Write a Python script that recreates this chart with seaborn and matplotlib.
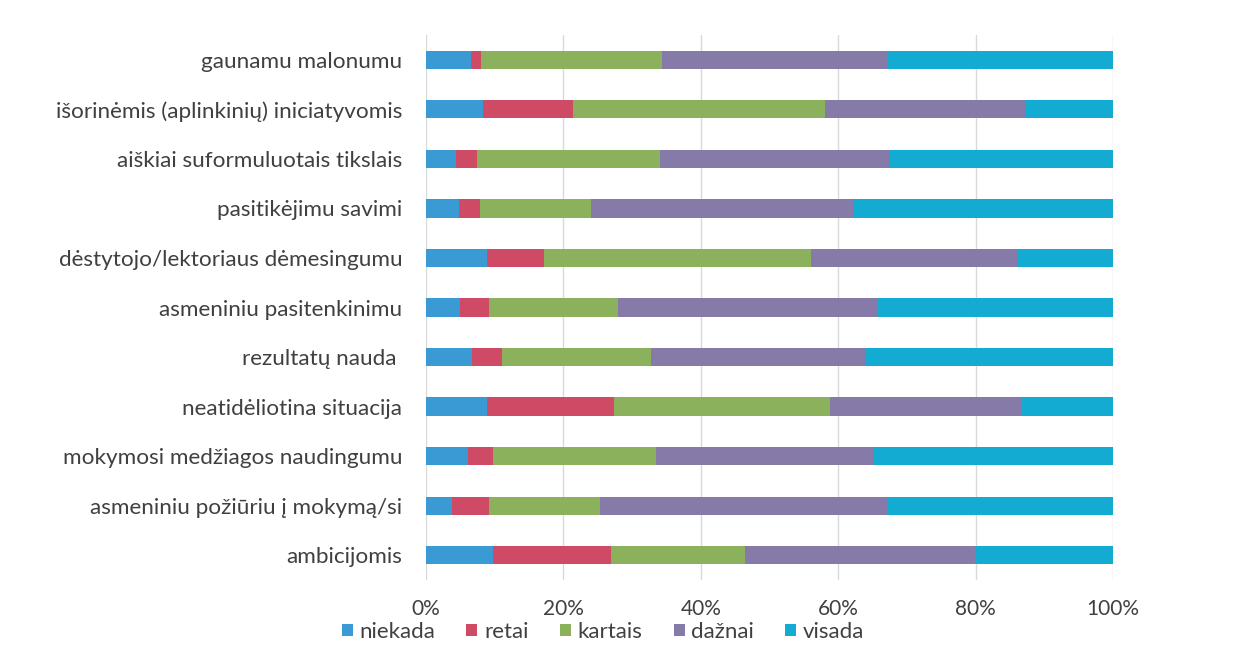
import matplotlib
matplotlib.use("Agg")
import matplotlib.pyplot as plt
import seaborn as sns
import pandas as pd
import numpy as np

categories = [
    "gaunamu malonumu",
    "išorinėmis (aplinkinių) iniciatyvomis",
    "aiškiai suformuluotais tikslais",
    "pasitikėjimu savimi",
    "dėstytojo/lektoriaus dėmesingumu",
    "asmeniniu pasitenkinimu",
    "rezultatų nauda ",
    "neatidėliotina situacija",
    "mokymosi medžiagos naudingumu",
    "asmeniniu požiūriu į mokymą/si",
    "ambicijomis",
]
niekada = [6.6, 8.3, 4.4, 4.8, 8.8, 4.9, 6.7, 8.8, 6.1, 3.8, 9.8]
retai   = [1.4, 13.1, 3.0, 3.1, 8.3, 4.2, 4.3, 18.6, 3.6, 5.3, 17.1]
kartais = [26.3, 36.7, 26.7, 16.1, 39.0, 18.9, 21.7, 31.4, 23.8, 16.2, 19.5]
daznai  = [32.8, 29.1, 33.5, 38.1, 30.1, 37.8, 31.2, 27.9, 31.5, 41.8, 33.7]
visada  = [32.9, 12.8, 32.4, 37.9, 13.8, 34.2, 36.1, 13.3, 35.0, 32.9, 19.9]
series_names = ["niekada", "retai", "kartais", "dažnai", "visada"]
series_colors = ["#3A9AD4", "#CE4A65", "#8CB15C", "#857AA8", "#14ABD2"]
tick_values = [0, 20, 40, 60, 80, 100]
tick_labels = ["0%", "20%", "40%", "60%", "80%", "100%"]

df = pd.DataFrame({"cat": categories, "niekada": niekada, "retai": retai,
                   "kartais": kartais, "dažnai": daznai, "visada": visada})
vals = df[series_names].to_numpy(dtype=float)
vals = vals / vals.sum(axis=1, keepdims=True) * 100
cum = np.cumsum(vals, axis=1)

sns.set_style("white")
plt.rcParams["font.family"] = ["Lato", "DejaVu Sans"]

fig = plt.figure(figsize=(12.36, 6.68), dpi=100)
ax = fig.add_axes([0.3447, 0.1317, 0.5558, 0.8159])

for i in range(len(series_names) - 1, -1, -1):
    d = pd.DataFrame({"cat": categories, "v": cum[:, i]})
    sns.barplot(data=d, y="cat", x="v", orient="h", color=series_colors[i],
                width=0.37, ax=ax, saturation=1, label=series_names[i],
                linewidth=0, order=categories)

ax.set_xlim(0, 100)
ax.set_ylim(len(categories) - 0.5, -0.5)
ax.set_xticks(tick_values)
ax.set_xticklabels(tick_labels)
ax.set_xlabel("")
ax.set_ylabel("")
for s in ax.spines.values():
    s.set_visible(False)
ax.grid(axis="x", color="#D9D9D9", linewidth=1)
ax.set_axisbelow(True)
ax.tick_params(axis="x", length=0, pad=14, labelsize=15, labelcolor="#404040")
ax.tick_params(axis="y", length=0, pad=17, labelsize=16.2, labelcolor="#404040")

handles, labels = ax.get_legend_handles_labels()
order = [labels.index(n) for n in series_names]
if ax.get_legend() is not None:
    ax.get_legend().remove()
leg = fig.legend([handles[k] for k in order], [labels[k] for k in order],
                 loc="center", bbox_to_anchor=(603 / 1236, 1 - 632 / 668),
                 ncol=5, frameon=False, fontsize=16, handlelength=0.5,
                 handleheight=0.5, handletextpad=0.3, columnspacing=1.4,
                 labelcolor="#404040")

fig.savefig("out.png", dpi=100)
